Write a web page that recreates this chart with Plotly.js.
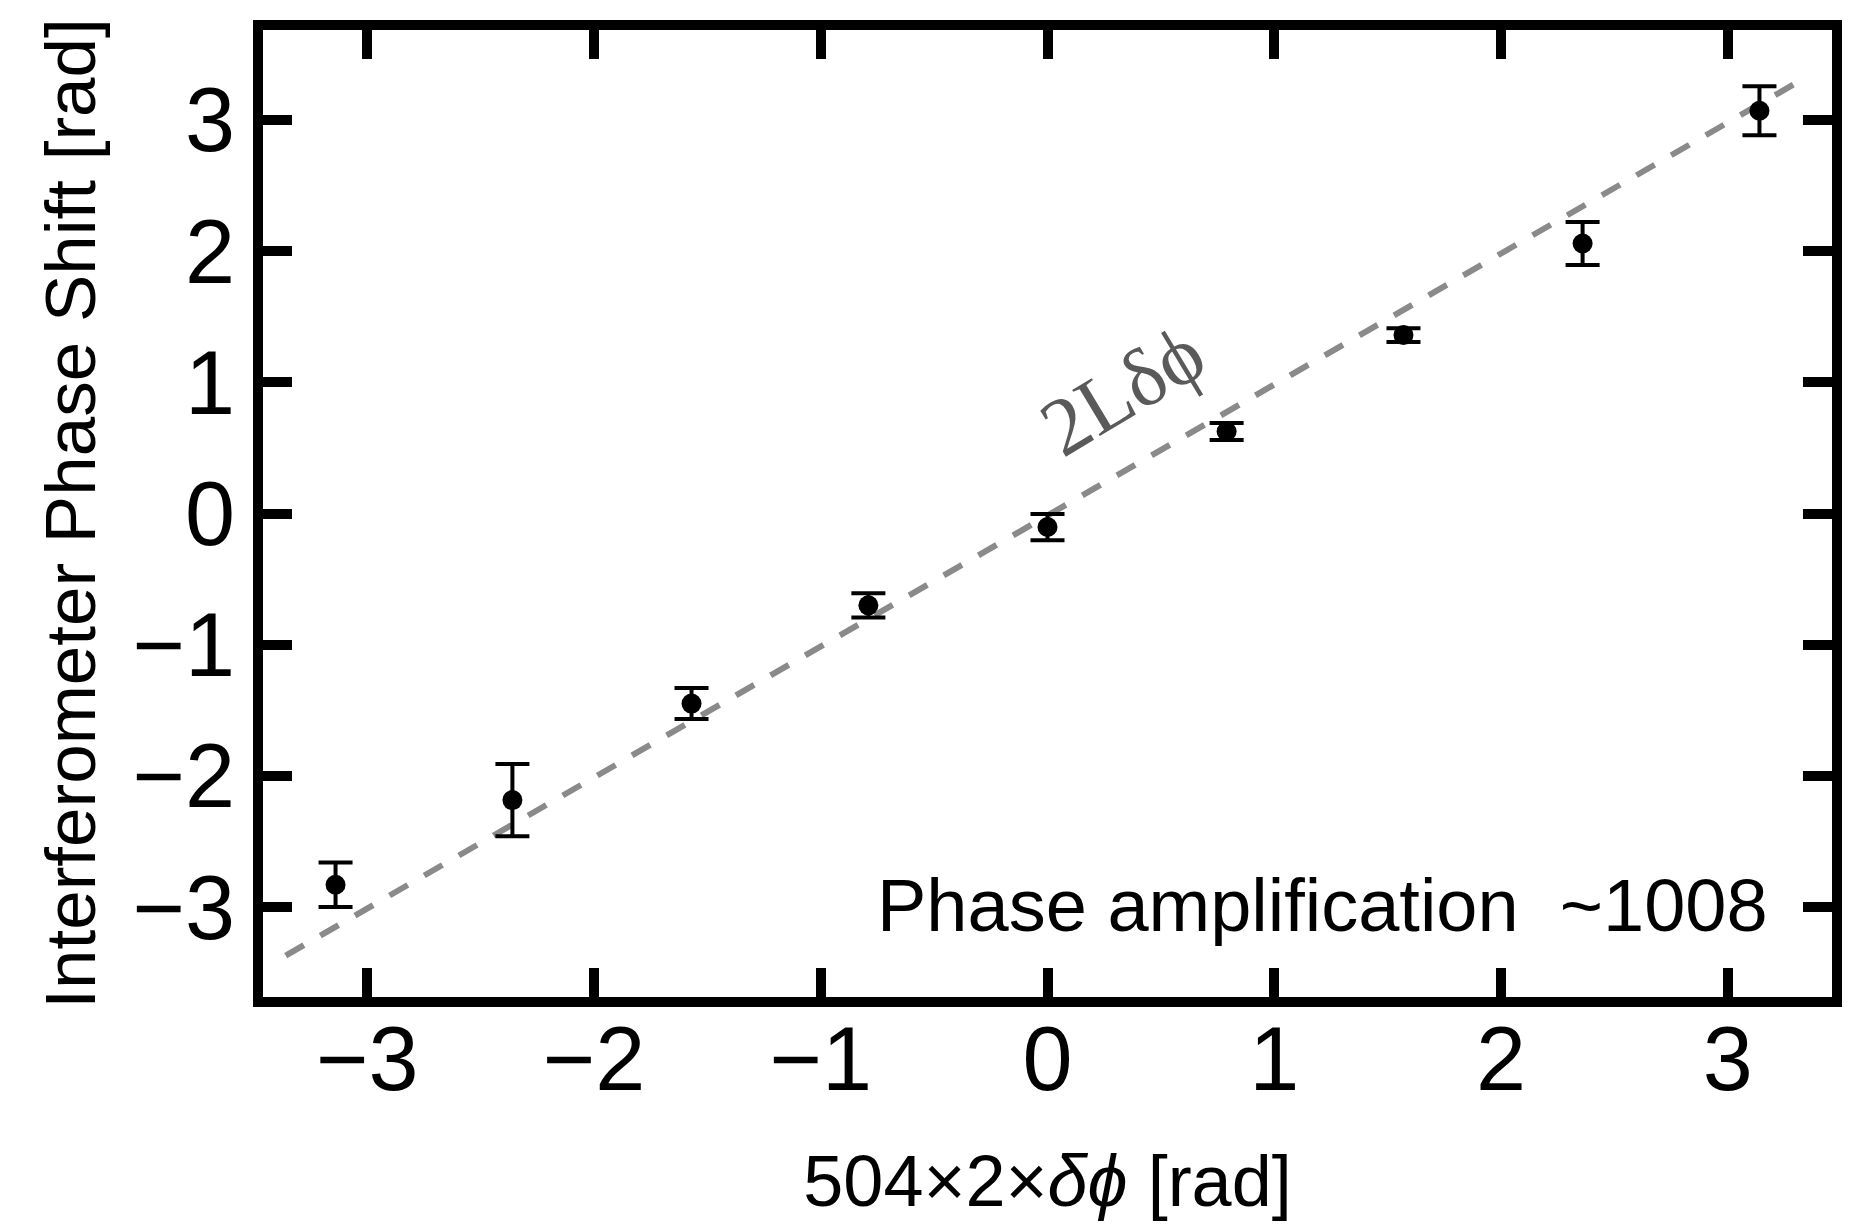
<!DOCTYPE html>
<html>
<head>
<meta charset="utf-8">
<script src="https://cdn.plot.ly/plotly-3.0.1.min.js"></script>
<style>html,body{margin:0;padding:0;background:#fff;}#chart{width:1850px;height:1230px;}</style>
</head>
<body>
<div id="chart"></div>
<script>
// Measured data (x = 504*2*delta-phi, y = interferometer phase shift)
const xVals = [-3.14, -2.36, -1.57, -0.79, 0.0, 0.79, 1.57, 2.36, 3.14];
const yVals = [-2.83, -2.185, -1.449, -0.70, -0.103, 0.625, 1.36, 2.058, 3.07];
const yErr  = [0.17, 0.275, 0.118, 0.092, 0.10, 0.065, 0.053, 0.164, 0.187];

// Reference line 2L*delta-phi (drawn as a dashed line)
const lineX = [-3.36, 3.29];
const lineY = [-3.37, 3.27];

const tickVals = [-3, -2, -1, 0, 1, 2, 3];
const tickText = ["\u22123", "\u22122", "\u22121", "0", "1", "2", "3"];

const FONT = "Liberation Sans, Arial, Helvetica, sans-serif";

const traces = [
  {
    x: lineX, y: lineY, type: "scatter", mode: "lines",
    line: {color: "#8a8a8a", width: 6, dash: "21px,19px"},
    hoverinfo: "skip", showlegend: false
  },
  {
    x: xVals, y: yVals, type: "scatter", mode: "markers",
    marker: {color: "#000", size: 20},
    error_y: {type: "data", array: yErr, visible: true, color: "#000", thickness: 4, width: 17},
    showlegend: false
  }
];

const axisCommon = {
  showgrid: false, zeroline: false,
  showline: true, linecolor: "#000", linewidth: 10,
  mirror: "ticks", ticks: "inside", ticklen: 29, tickwidth: 10, tickcolor: "#000",
  tickvals: tickVals, ticktext: tickText,
  tickfont: {family: FONT, size: 90, color: "#000"}
};

const layout = {
  width: 1850, height: 1230,
  paper_bgcolor: "#fff", plot_bgcolor: "#fff",
  margin: {l: 263, r: 18, t: 30, b: 233},
  xaxis: Object.assign({}, axisCommon, {
    range: [-3.46, 3.46],
    ticklabelstandoff: -25,
    title: {text: "504\u00d72\u00d7<i>\u03b4\u03d5</i> [rad]", font: {family: FONT, size: 72, color: "#000"}, standoff: 52}
  }),
  yaxis: Object.assign({}, axisCommon, {
    range: [-3.686, 3.686],
    title: {text: "Interferometer Phase Shift [rad]", font: {family: FONT, size: 71, color: "#000"}, standoff: 18}
  }),
  annotations: [
    {
      x: 3.185, y: -2.99, xref: "x", yref: "y", xanchor: "right", yanchor: "middle",
      text: "Phase amplification\u00a0 ~1008", showarrow: false,
      font: {family: FONT, size: 74, color: "#000"}
    },
    {
      x: 0.33, y: 0.94, xref: "x", yref: "y", xanchor: "center", yanchor: "middle",
      text: "2L\u03b4\u03d5", showarrow: false, textangle: -31,
      font: {family: "Liberation Serif, Times New Roman, serif", size: 82, color: "#5a5a5a"}
    }
  ]
};

Plotly.newPlot("chart", traces, layout, {staticPlot: true, displayModeBar: false});
</script>
</body>
</html>
